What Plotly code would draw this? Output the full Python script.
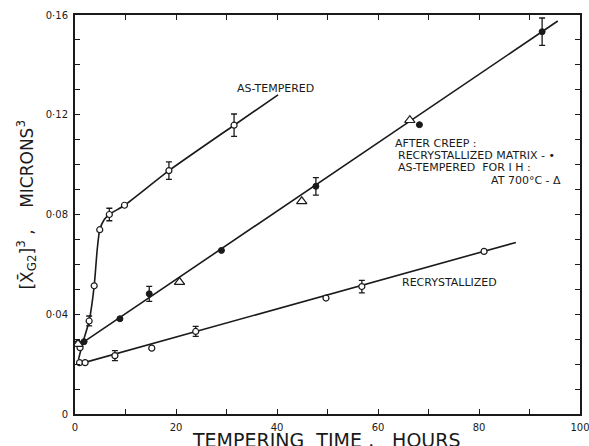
import plotly.graph_objects as go

# ---- data ----
# As-tempered: measured points (open circles)
at_x = [0.6, 1.0, 2.8, 3.8, 4.9, 6.8, 9.8, 18.6, 31.5]
at_y = [0.0284, 0.0266, 0.0373, 0.0514, 0.0739, 0.0800, 0.0837, 0.0976, 0.1158]
at_err = [0.0, 0.0, 0.002, 0.0, 0.0, 0.0025, 0.0, 0.0035, 0.0045]
# As-tempered: drawn curve
at_curve_x = [0.7, 1.6, 2.8, 3.8, 4.4, 4.9, 5.8, 6.8, 9.8, 18.6, 31.5, 40.2]
at_curve_y = [0.022, 0.029, 0.0373, 0.0514, 0.066, 0.0739, 0.0780, 0.0800, 0.0837, 0.0976, 0.1158, 0.128]

# After creep: recrystallized matrix (filled circles)
rm_x = [1.8, 8.9, 14.7, 29.0, 47.7, 68.2, 92.5]
rm_y = [0.0290, 0.0382, 0.0482, 0.0656, 0.0913, 0.1160, 0.1533]
rm_err = [0.0, 0.0, 0.003, 0.0, 0.0035, 0.0, 0.0055]
# After creep: as-tempered for 1 h at 700 C (triangles)
tr_x = [0.6, 20.7, 44.9, 66.3]
tr_y = [0.0280, 0.0529, 0.0853, 0.1178]
# After creep: drawn line
creep_line_x = [0.5, 95.6]
creep_line_y = [0.0272, 0.1576]

# Recrystallized (open circles)
rc_x = [0.9, 2.0, 7.9, 15.2, 23.9, 49.7, 56.8, 81.0]
rc_y = [0.0206, 0.0206, 0.0234, 0.0264, 0.0331, 0.0465, 0.0511, 0.0652]
rc_err = [0.0, 0.0, 0.002, 0.0, 0.002, 0.0, 0.0025, 0.0]
rc_line_x = [0.3, 2.0, 87.3]
rc_line_y = [0.0205, 0.0207, 0.0688]

# ticks
x_tickvals = [0, 20, 40, 60, 80, 100]
x_ticktext = ["0", "20", "40", "60", "80", "100"]
x_minor_tickvals = [10, 30, 50, 70, 90]
y_tickvals = [0, 0.04, 0.08, 0.12, 0.16]
y_ticktext = ["0", "0·04", "0·08", "0·12", "0·16"]
y_minor_tickvals = [0.01, 0.02, 0.03, 0.05, 0.06, 0.07, 0.09, 0.10, 0.11, 0.13, 0.14, 0.15]

FONT = "DejaVu Sans"
BLACK = "#1a1a1a"

fig = go.Figure()

# lines
fig.add_trace(go.Scatter(x=at_curve_x, y=at_curve_y, mode="lines",
                         line=dict(color=BLACK, width=1.6, shape="spline", smoothing=0.6),
                         hoverinfo="skip"))
fig.add_trace(go.Scatter(x=creep_line_x, y=creep_line_y, mode="lines",
                         line=dict(color=BLACK, width=1.6), hoverinfo="skip"))
fig.add_trace(go.Scatter(x=rc_line_x, y=rc_line_y, mode="lines",
                         line=dict(color=BLACK, width=1.6), hoverinfo="skip"))

err_style = dict(type="data", visible=True, color=BLACK, thickness=1.3, width=3)

# markers
fig.add_trace(go.Scatter(x=at_x, y=at_y, mode="markers",
                         marker=dict(symbol="circle", size=6, color="white",
                                     line=dict(color=BLACK, width=1.2)),
                         error_y=dict(array=at_err, **err_style)))
fig.add_trace(go.Scatter(x=rc_x, y=rc_y, mode="markers",
                         marker=dict(symbol="circle", size=6, color="white",
                                     line=dict(color=BLACK, width=1.2)),
                         error_y=dict(array=rc_err, **err_style)))
fig.add_trace(go.Scatter(x=rm_x, y=rm_y, mode="markers",
                         marker=dict(symbol="circle", size=6, color=BLACK,
                                     line=dict(color=BLACK, width=1)),
                         error_y=dict(array=rm_err, **err_style)))
fig.add_trace(go.Scatter(x=tr_x, y=tr_y, mode="markers",
                         marker=dict(symbol="triangle-up", size=9, color="white",
                                     line=dict(color=BLACK, width=1.2))))

axis_common = dict(showline=True, linecolor=BLACK, linewidth=2, mirror="ticks",
                   ticks="inside", ticklen=5, tickwidth=1.2, tickcolor=BLACK,
                   showgrid=False, zeroline=False, ticklabelstandoff=3, automargin=False,
                   ticklabeloverflow="allow",
                   tickfont=dict(family=FONT, size=10, color=BLACK))

fig.update_xaxes(range=[0, 100], tickmode="array", tickvals=x_tickvals, ticktext=x_ticktext,
                 minor=dict(tickmode="array", tickvals=x_minor_tickvals, ticks="inside",
                            ticklen=5, tickwidth=1.2, tickcolor=BLACK, showgrid=False),
                 **axis_common)
fig.update_yaxes(range=[0, 0.16], tickmode="array", tickvals=y_tickvals, ticktext=y_ticktext,
                 minor=dict(tickmode="array", tickvals=y_minor_tickvals, ticks="inside",
                            ticklen=5, tickwidth=1.2, tickcolor=BLACK, showgrid=False),
                 **axis_common)

# axis titles (placed like the reference)
fig.add_annotation(xref="paper", yref="paper", x=0.498, y=-0.0977, xanchor="center",
                   yanchor="bottom", showarrow=False,
                   text="TEMPERING  TIME ,   HOURS",
                   font=dict(family=FONT, size=19, color=BLACK))
fig.add_annotation(xref="paper", yref="paper", x=-0.095, y=0.525, xanchor="center",
                   yanchor="middle", showarrow=False, textangle=-90,
                   text="[X\u0304<sub>G2</sub>]<sup>3</sup> ,    MICRONS<sup>3</sup>",
                   font=dict(family=FONT, size=17, color=BLACK))

lab_font = dict(family=FONT, size=11, color=BLACK)
anns = [
    dict(x=31.7, y=0.1305, text="AS-TEMPERED", xanchor="left"),
    dict(x=64.4, y=0.0526, text="RECRYSTALLIZED", xanchor="left"),
    dict(x=63.0, y=0.1085, text="AFTER CREEP :", xanchor="left"),
    dict(x=63.6, y=0.1038, text="RECRYSTALLIZED MATRIX - \u2022", xanchor="left"),
    dict(x=63.6, y=0.0990, text="AS-TEMPERED  FOR I H :", xanchor="left"),
    dict(x=96.6, y=0.0935, text="AT 700\u00b0C - \u0394", xanchor="right"),
]
for a in anns:
    fig.add_annotation(xref="x", yref="y", showarrow=False, yanchor="middle",
                       font=lab_font, **a)

fig.update_layout(width=589, height=446, showlegend=False,
                  margin=dict(l=75, r=9, t=15, b=32),
                  paper_bgcolor="white", plot_bgcolor="white")

# remove the browser's default 8px page margin so the figure fills the window exactly
fig.write_html("out.html", config={"displayModeBar": False},
               post_script="document.body.style.margin='0';document.body.style.overflow='hidden';")
